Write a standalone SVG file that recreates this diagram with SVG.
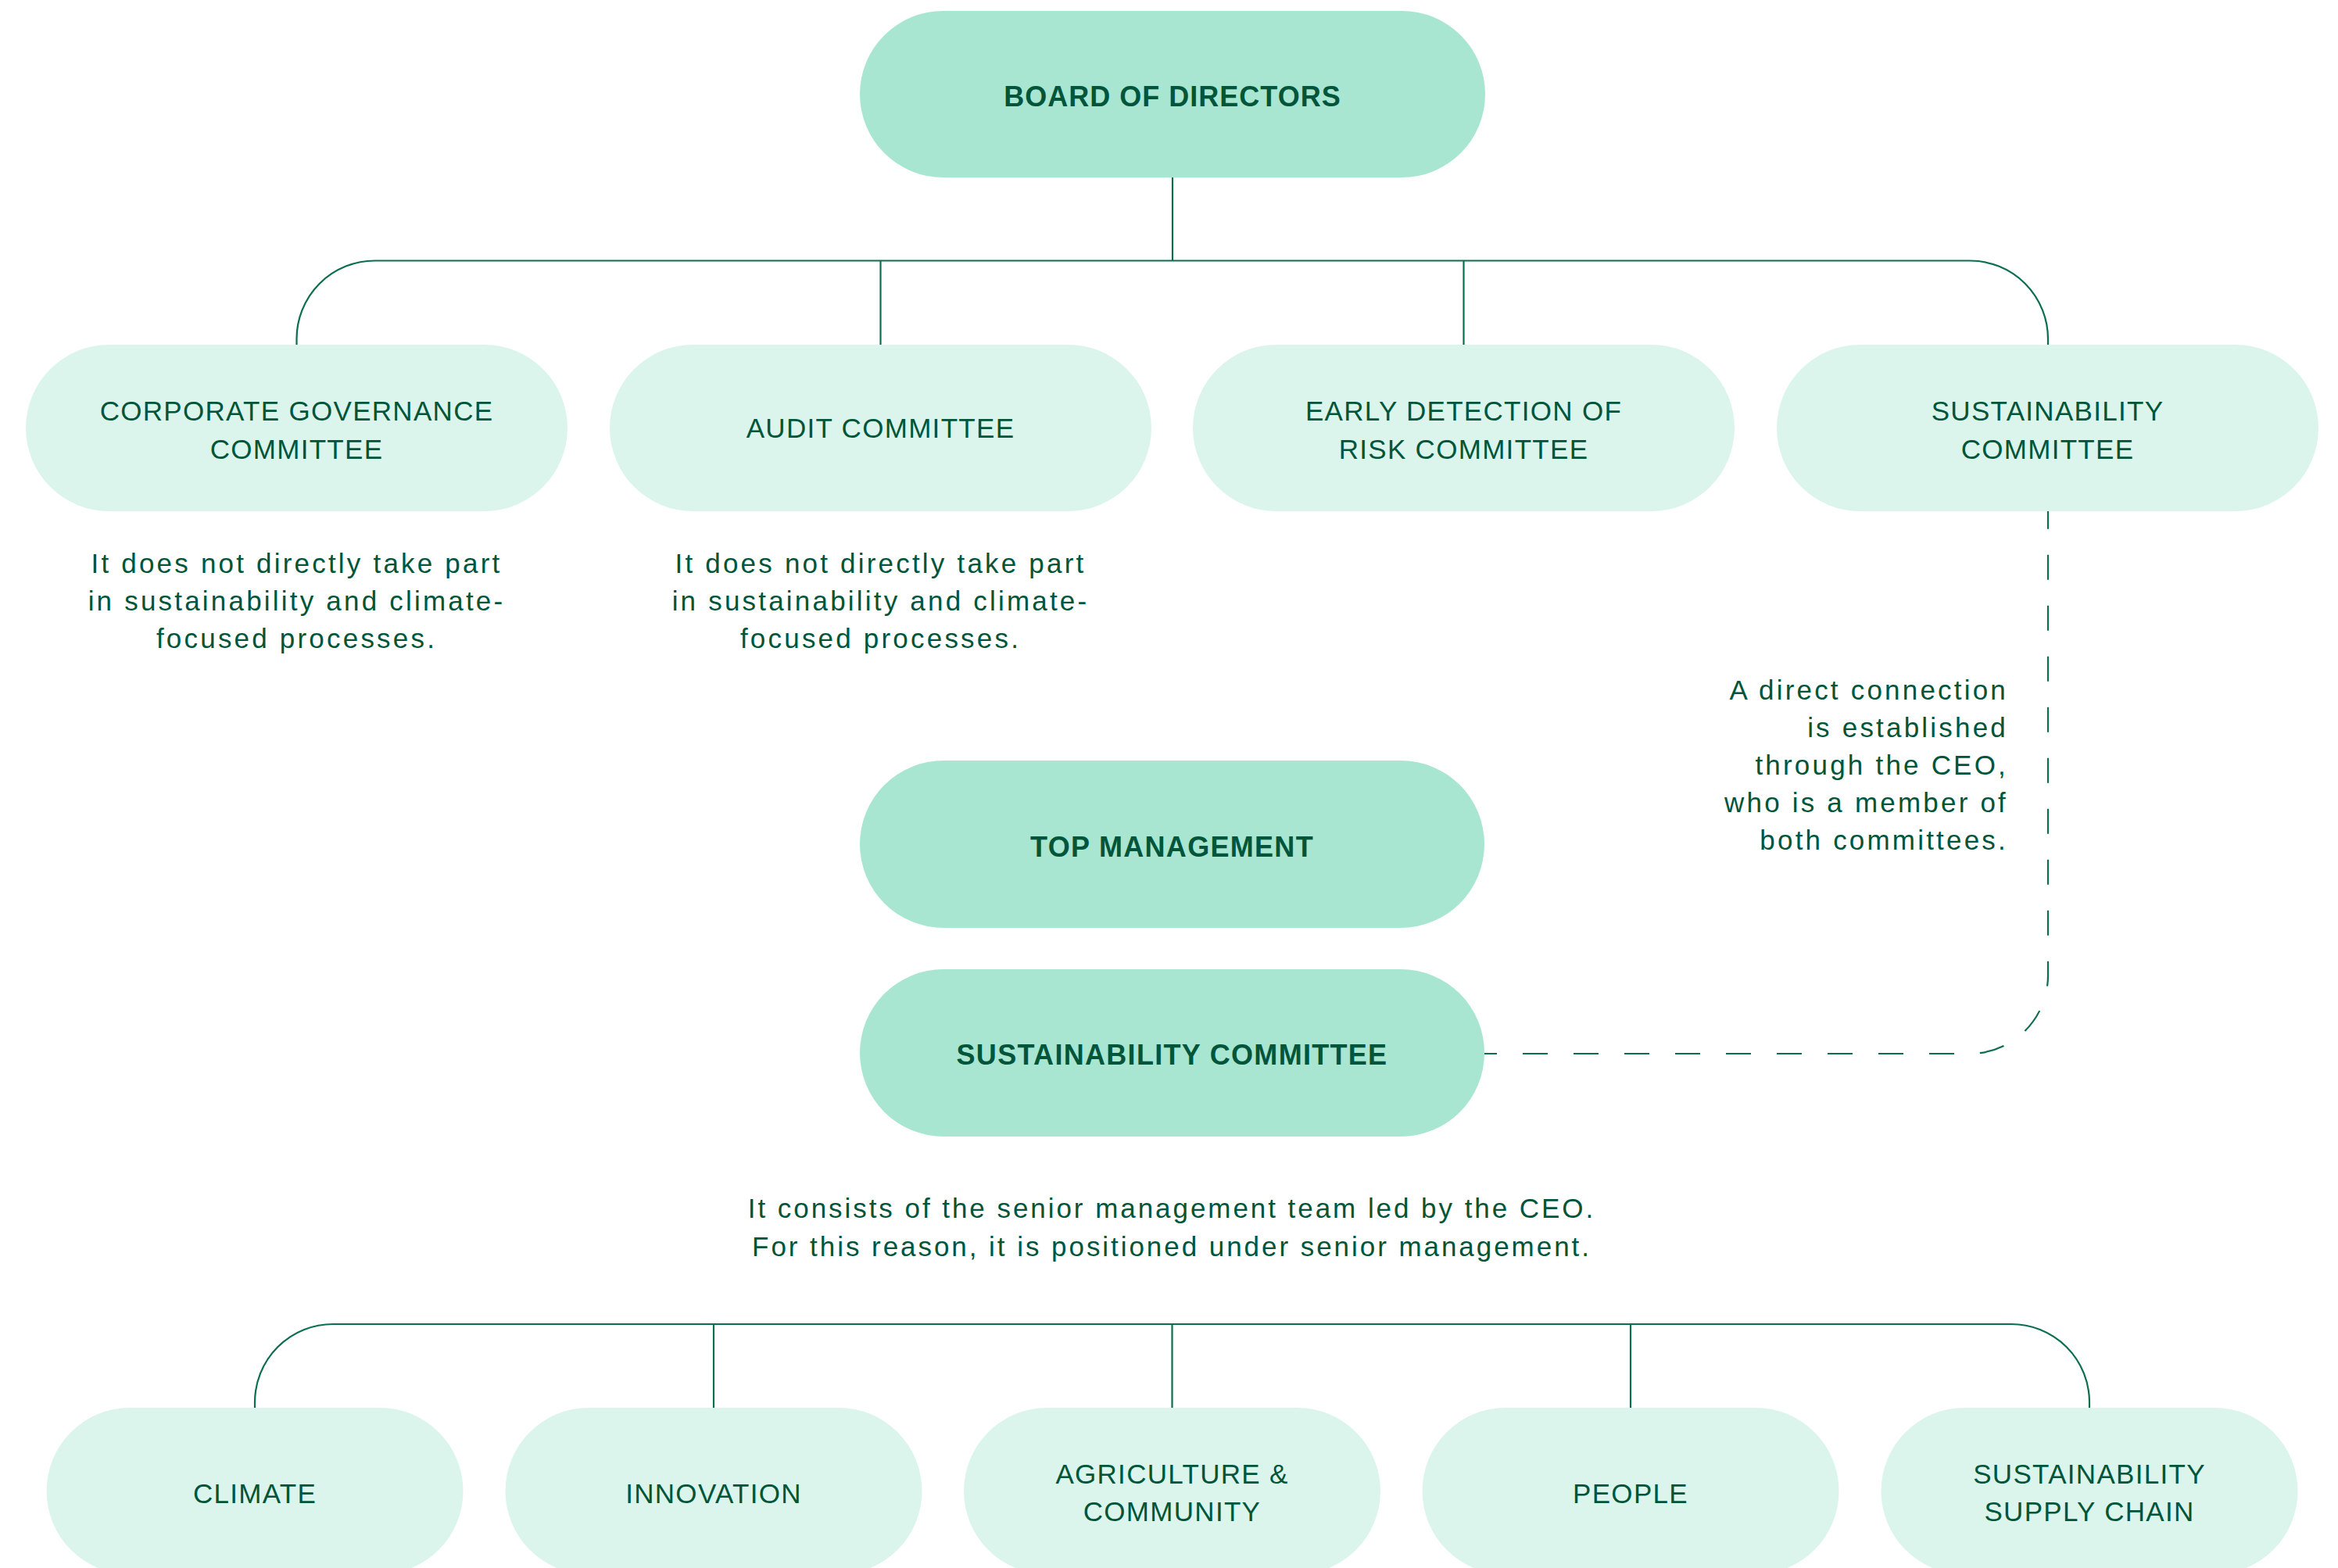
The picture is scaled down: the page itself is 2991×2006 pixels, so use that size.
<svg xmlns="http://www.w3.org/2000/svg" width="2991" height="2006" viewBox="0 0 2991 2006">
<style>
.bg{fill:#ffffff}
.dark{fill:#A8E6D2}
.light{fill:#DCF5EC}
.t{font-family:"Liberation Sans",Arial,sans-serif;fill:#00553A;text-anchor:middle}
.b{font-size:36px;font-weight:bold;letter-spacing:1.3px}
.r{font-size:35px;letter-spacing:1.3px}
.n{font-family:"Liberation Sans",Arial,sans-serif;fill:#00553A;font-size:35px;letter-spacing:3.2px}
.w{letter-spacing:2.95px}
.c{text-anchor:middle}
.e{text-anchor:end}
.ln{fill:none;stroke:#0B6E4F;stroke-width:2.2}
.dash{fill:none;stroke:#0B6E4F;stroke-width:2.2;stroke-dasharray:32 33;stroke-dashoffset:16}
</style>
<rect class="bg" x="0" y="0" width="2991" height="2006"/>
<g id="connectors">
<path class="ln" d="M1500,227 V333.5"/>
<path class="ln" d="M379.5,441 V434 A100,100 0 0 1 479.5,333.5 H2520 A100,100 0 0 1 2620,434 V441"/>
<path class="ln" d="M1126.5,333.5 V441"/>
<path class="ln" d="M1872.5,333.5 V441"/>
<path class="dash" d="M1899,1348 H2520 A100,100 0 0 0 2620,1248 V654"/>
<path class="ln" d="M326,1801 V1794 A100,100 0 0 1 426,1694 H2573 A100,100 0 0 1 2673,1794 V1801"/>
<path class="ln" d="M913,1694 V1801"/>
<path class="ln" d="M1499.5,1694 V1801"/>
<path class="ln" d="M2086,1694 V1801"/>
</g>
<g id="board">
<rect class="dark" x="1100" y="14" width="800" height="213" rx="106.5"/>
<text class="t b" x="1500" y="136" style="letter-spacing:1px">BOARD OF DIRECTORS</text>
</g>
<g id="corporate-governance">
<rect class="light" x="33" y="441" width="693" height="213" rx="106.5"/>
<text class="t r" x="379.5" y="538">CORPORATE GOVERNANCE</text>
<text class="t r" x="379.5" y="587">COMMITTEE</text>
</g>
<g id="audit">
<rect class="light" x="780" y="441" width="693" height="213" rx="106.5"/>
<text class="t r" x="1126.5" y="560">AUDIT COMMITTEE</text>
</g>
<g id="early-detection">
<rect class="light" x="1526" y="441" width="693" height="213" rx="106.5"/>
<text class="t r" x="1872.5" y="538">EARLY DETECTION OF</text>
<text class="t r" x="1872.5" y="587">RISK COMMITTEE</text>
</g>
<g id="sustainability-board">
<rect class="light" x="2273" y="441" width="693" height="213" rx="106.5"/>
<text class="t r" x="2619.5" y="538">SUSTAINABILITY</text>
<text class="t r" x="2619.5" y="587">COMMITTEE</text>
</g>
<g id="note-corporate">
<text class="n c" x="379.5" y="733">It does not directly take part</text>
<text class="n c" x="379.5" y="781">in sustainability and climate-</text>
<text class="n c" x="379.5" y="829">focused processes.</text>
</g>
<g id="note-audit">
<text class="n c" x="1126.5" y="733">It does not directly take part</text>
<text class="n c" x="1126.5" y="781">in sustainability and climate-</text>
<text class="n c" x="1126.5" y="829">focused processes.</text>
</g>
<g id="note-ceo">
<text class="n e" x="2569" y="895">A direct connection</text>
<text class="n e" x="2569" y="943">is established</text>
<text class="n e" x="2569" y="991">through the CEO,</text>
<text class="n e" x="2569" y="1039">who is a member of</text>
<text class="n e" x="2569" y="1087">both committees.</text>
</g>
<g id="top-management">
<rect class="dark" x="1100" y="973" width="799" height="214" rx="107"/>
<text class="t b" x="1499.5" y="1096">TOP MANAGEMENT</text>
</g>
<g id="sustainability-committee">
<rect class="dark" x="1100" y="1240" width="799" height="214" rx="107"/>
<text class="t b" x="1499.5" y="1362">SUSTAINABILITY COMMITTEE</text>
</g>
<g id="note-senior">
<text class="n c w" x="1499" y="1558">It consists of the senior management team led by the CEO.</text>
<text class="n c w" x="1499" y="1607">For this reason, it is positioned under senior management.</text>
</g>
<g id="climate">
<rect class="light" x="59.5" y="1801" width="533" height="213" rx="106.5"/>
<text class="t r" x="326" y="1923">CLIMATE</text>
</g>
<g id="innovation">
<rect class="light" x="646.5" y="1801" width="533" height="213" rx="106.5"/>
<text class="t r" x="913" y="1923">INNOVATION</text>
</g>
<g id="agriculture">
<rect class="light" x="1233" y="1801" width="533" height="213" rx="106.5"/>
<text class="t r" x="1499.5" y="1898">AGRICULTURE &amp;</text>
<text class="t r" x="1499.5" y="1946">COMMUNITY</text>
</g>
<g id="people">
<rect class="light" x="1819.5" y="1801" width="533" height="213" rx="106.5"/>
<text class="t r" x="2086" y="1923">PEOPLE</text>
</g>
<g id="supply-chain">
<rect class="light" x="2406.5" y="1801" width="533" height="213" rx="106.5"/>
<text class="t r" x="2673" y="1898">SUSTAINABILITY</text>
<text class="t r" x="2673" y="1946">SUPPLY CHAIN</text>
</g>
</svg>
